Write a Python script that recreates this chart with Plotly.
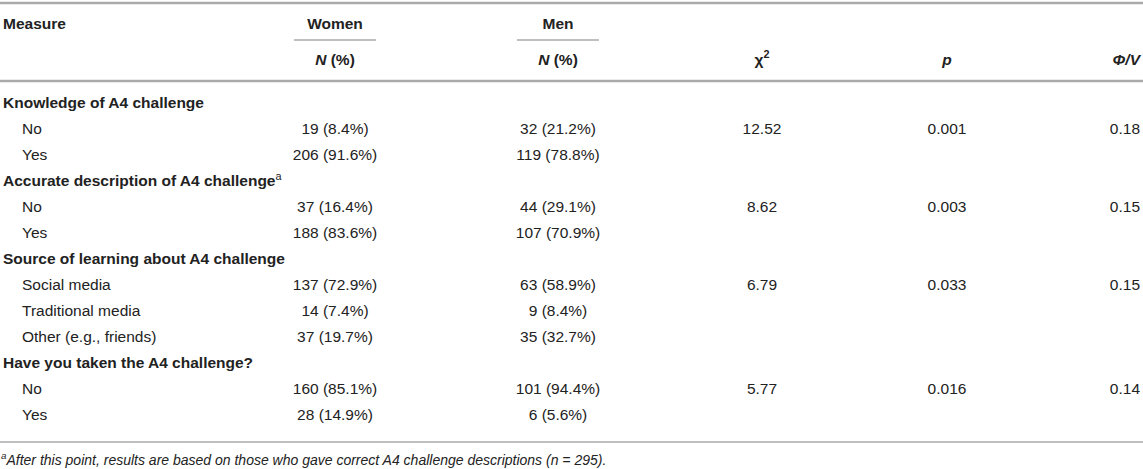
import plotly.graph_objects as go

# Table contents
measures = ["Knowledge of A4 challenge", "No", "Yes",
            "Accurate description of A4 challenge", "No", "Yes",
            "Source of learning about A4 challenge", "Social media", "Traditional media", "Other (e.g., friends)",
            "Have you taken the A4 challenge?", "No", "Yes"]
is_heading = [True, False, False, True, False, False, True, False, False, False, True, False, False]
note_mark = ["", "", "", "a", "", "", "", "", "", "", "", "", ""]
women = ["", "19 (8.4%)", "206 (91.6%)", "", "37 (16.4%)", "188 (83.6%)",
         "", "137 (72.9%)", "14 (7.4%)", "37 (19.7%)", "", "160 (85.1%)", "28 (14.9%)"]
men = ["", "32 (21.2%)", "119 (78.8%)", "", "44 (29.1%)", "107 (70.9%)",
       "", "63 (58.9%)", "9 (8.4%)", "35 (32.7%)", "", "101 (94.4%)", "6 (5.6%)"]
chi2 = ["", "12.52", "", "", "8.62", "", "", "6.79", "", "", "", "5.77", ""]
pvals = ["", "0.001", "", "", "0.003", "", "", "0.033", "", "", "", "0.016", ""]
phi_v = ["", "0.18", "", "", "0.15", "", "", "0.15", "", "", "", "0.14", ""]
footnote = "<sup>a</sup>After this point, results are based on those who gave correct A4 challenge descriptions (<i>n</i> = 295)."

W, H = 1143, 469
txt = "#222222"
rule = "#aaaaaa"
font = "Liberation Sans, Arial, sans-serif"
fs = 15.5

# column positions (pixels)
x_meas, x_indent = 3, 22
x_women, x_men, x_chi, x_p, x_phi = 335, 558, 762, 947, 1140
y_head1, y_head2, y_first, step = 25, 61, 104, 26.05

ys = [y_first + i * step for i in range(len(measures))]
y_bottom = 442
y_foot = 461

fig = go.Figure()

def col(x, y, text, pos, size=fs):
    # skip empty cells
    keep = [i for i, t in enumerate(text) if t]
    fig.add_trace(go.Scatter(x=[x[i] for i in keep], y=[y[i] for i in keep],
                             text=[text[i] for i in keep], mode="text", textposition=pos,
                             textfont=dict(family=font, size=size, color=txt),
                             showlegend=False, hoverinfo="skip", cliponaxis=False))

n = len(ys)
# headers
col([x_meas], [y_head1], ["<b>Measure</b>"], "middle right")
col([x_women, x_men], [y_head1, y_head1], ["<b>Women</b>", "<b>Men</b>"], "middle center")
col([x_women, x_men, x_chi, x_p], [y_head2] * 4,
    ["<b><i>N</i> (%)</b>", "<b><i>N</i> (%)</b>", "<b>χ<sup>2</sup></b>", "<b><i>p</i></b>"], "middle center")
col([x_phi], [y_head2], ["<b><i>Φ/V</i></b>"], "middle left")

# row labels and values
labels = []
for m, h, a in zip(measures, is_heading, note_mark):
    s = "<b>%s</b>" % m if h else m
    if a:
        s += "<sup>%s</sup>" % a
    labels.append(s)
col([x_meas if h else x_indent for h in is_heading], ys, labels, "middle right")
col([x_women] * n, ys, women, "middle center")
col([x_men] * n, ys, men, "middle center")
col([x_chi] * n, ys, chi2, "middle center")
col([x_p] * n, ys, pvals, "middle center")
col([x_phi] * n, ys, phi_v, "middle left")

# footnote
col([x_meas - 2], [y_foot], ["<i>%s</i>" % footnote], "middle right", size=14)

# rules
for y0, w in [(3, 2.5), (81, 2.5), (y_bottom, 1.5)]:
    fig.add_shape(type="line", x0=0, x1=W, y0=y0, y1=y0, line=dict(color=rule, width=w))
for xc in [x_women, x_men]:
    fig.add_shape(type="line", x0=xc - 41, x1=xc + 41, y0=40, y1=40,
                  line=dict(color=rule, width=1.5))

fig.update_xaxes(range=[0, W], visible=False, fixedrange=True)
fig.update_yaxes(range=[H, 0], visible=False, fixedrange=True)
fig.update_layout(width=W, height=H, margin=dict(l=0, r=0, t=0, b=0),
                  plot_bgcolor="white", paper_bgcolor="white")

fig.write_html("out.html", config={"displayModeBar": False},
               post_script="document.body.style.margin='0';document.body.style.overflow='hidden';")
